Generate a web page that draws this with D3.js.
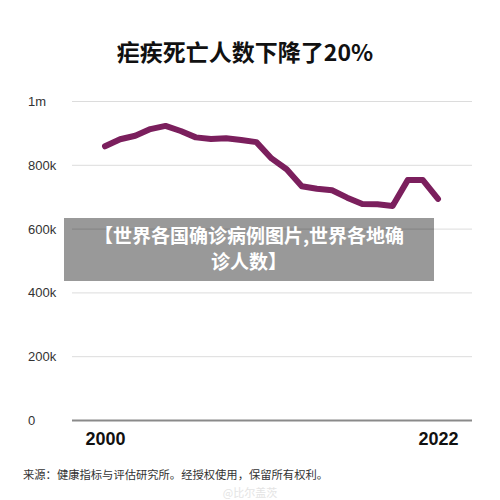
<!DOCTYPE html>
<html>
<head>
<meta charset="utf-8">
<script src="https://cdn.jsdelivr.net/npm/d3@7"></script>
<style>
  body { margin: 0; background: #fff; }
  svg { display: block; }
</style>
</head>
<body>
<div id="chart"></div>
<script>
// data
let years = d3.range(2000, 2023);
let deaths = [858000, 880000, 891000, 912000, 922000, 906000, 886000, 881000, 883000, 878000,
              871000, 820000, 786000, 733000, 725000, 720000, 697000, 677000, 676000, 671000,
              752000, 752000, 693000];
let yTicks = [0, 200000, 400000, 600000, 800000, 1000000];
let yTickLabels = ["0", "200k", "400k", "600k", "800k", "1m"];
let xTicks = [2000, 2022];

let titleText = "疟疾死亡人数下降了20%";
let sourceText = "来源：健康指标与评估研究所。经授权使用，保留所有权利。";
let bannerLines = ["【世界各国确诊病例图片,世界各地确", "诊人数】"];

let width = 500, height = 500;
let margin = {top: 101, right: 28, bottom: 80, left: 72};

let svg = d3.select("#chart").append("svg")
    .attr("width", width)
    .attr("height", height);

// title
svg.append("text")
    .attr("x", 245)
    .attr("y", 61)
    .attr("text-anchor", "middle")
    .attr("font-family", "'Noto Sans CJK SC', sans-serif")
    .attr("font-weight", "bold")
    .attr("font-size", 23)
    .attr("fill", "#111")
    .text(titleText);

let g = svg.append("g")
    .attr("transform", `translate(${margin.left}, ${margin.top})`);

let innerW = width - margin.left - margin.right;
let innerH = 420 - margin.top;

// scales
let xScale = d3.scaleLinear()
    .domain([2000, 2022])
    .range([33, 366]);
let yScale = d3.scaleLinear()
    .domain([0, 1000000])
    .range([innerH, 0]);

// gridlines + y labels
let yAxis = d3.axisRight(yScale)
    .tickValues(yTicks)
    .tickSize(innerW)
    .tickFormat((d, i) => yTickLabels[i]);

g.append("g")
    .attr("class", "y-axis")
    .call(yAxis)
    .call(a => a.select(".domain").remove())
    .call(a => a.selectAll(".tick line")
        .attr("stroke", d => d === 0 ? "#8a8a8a" : "#dcdcdc")
        .attr("stroke-width", d => d === 0 ? 2 : 1))
    .call(a => a.selectAll(".tick text")
        .attr("x", -44)
        .attr("dy", "0.35em")
        .attr("text-anchor", "start")
        .attr("font-family", "'Liberation Sans', Arial, sans-serif")
        .attr("font-size", 13)
        .attr("fill", "#333"));

// x labels
let xAxis = d3.axisBottom(xScale)
    .tickValues(xTicks)
    .tickSize(0)
    .tickFormat(d3.format("d"));

g.append("g")
    .attr("class", "x-axis")
    .attr("transform", `translate(0, ${innerH})`)
    .call(xAxis)
    .call(a => a.select(".domain").remove())
    .call(a => a.selectAll(".tick text")
        .attr("y", 25)
        .attr("dy", 0)
        .attr("font-family", "'Liberation Sans', Arial, sans-serif")
        .attr("font-weight", "bold")
        .attr("font-size", 18)
        .attr("fill", "#111"));

// line
let line = d3.line()
    .x((d, i) => xScale(years[i]))
    .y(d => yScale(d));

g.append("path")
    .datum(deaths)
    .attr("fill", "none")
    .attr("stroke", "#7b1f5d")
    .attr("stroke-width", 6)
    .attr("stroke-linejoin", "round")
    .attr("stroke-linecap", "round")
    .attr("d", line);

// source note
svg.append("text")
    .attr("x", 23)
    .attr("y", 479)
    .attr("font-family", "'Noto Sans CJK SC', sans-serif")
    .attr("font-size", 11.3)
    .attr("fill", "#333")
    .text(sourceText);

// watermark
svg.append("text")
    .attr("x", 250)
    .attr("y", 497)
    .attr("text-anchor", "middle")
    .attr("font-family", "'Noto Sans CJK SC', sans-serif")
    .attr("font-size", 11)
    .attr("fill", "#e4e4e4")
    .text("@比尔盖茨");

// grey banner on top
svg.append("rect")
    .attr("x", 64)
    .attr("y", 218)
    .attr("width", 370)
    .attr("height", 63)
    .attr("fill", "#000")
    .attr("fill-opacity", 0.4);

svg.selectAll(".banner")
    .data(bannerLines)
    .enter().append("text")
    .attr("class", "banner")
    .attr("x", 249)
    .attr("y", (d, i) => 243 + i * 25.5)
    .attr("text-anchor", "middle")
    .attr("font-family", "'Noto Sans CJK SC', sans-serif")
    .attr("font-weight", "bold")
    .attr("font-size", 19)
    .attr("fill", "#fff")
    .text(d => d);
</script>
</body>
</html>
